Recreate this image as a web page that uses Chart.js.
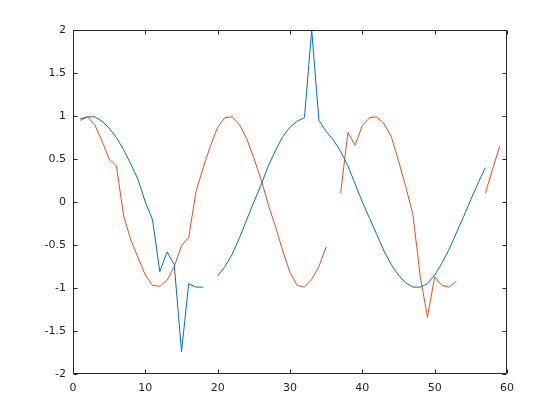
<!DOCTYPE html>
<html>
<head>
<meta charset="utf-8">
<script src="https://cdn.jsdelivr.net/npm/chart.js@4"></script>
<style>
  html, body { margin: 0; padding: 0; background: #fff; }
  #wrap { width: 560px; height: 420px; position: relative; }
</style>
</head>
<body>
<div id="wrap"><canvas id="c"></canvas></div>
<script>
// sample positions (x = 1..59)
const xVals = [1, 2, 3, 4, 5, 6, 7, 8, 9, 10, 11, 12, 13, 14, 15, 16, 17, 18, 19, 20,
               21, 22, 23, 24, 25, 26, 27, 28, 29, 30, 31, 32, 33, 34, 35, 36, 37, 38, 39, 40,
               41, 42, 43, 44, 45, 46, 47, 48, 49, 50, 51, 52, 53, 54, 55, 56, 57, 58, 59];

// blue series (gap at 19, ends at 57)
const blueVals = [0.95, 0.99, 0.99, 0.94, 0.86, 0.75, 0.61, 0.44, 0.26, 0.0,
                  -0.21, -0.81, -0.58, -0.73, -1.74, -0.95, -0.99, -0.99, null, -0.86,
                  -0.75, -0.61, -0.42, -0.21, 0.0, 0.2, 0.42, 0.6, 0.76, 0.87,
                  0.94, 0.98, 2.0, 0.95, 0.82, 0.72, 0.59, 0.42, 0.21, 0.0,
                  -0.19, -0.38, -0.57, -0.73, -0.85, -0.94, -0.99, -0.99, -0.95, -0.85,
                  -0.71, -0.55, -0.36, -0.17, 0.03, 0.22, 0.4, null, null];

// red series (gaps at 36 and 54..56)
const redVals = [0.97, 0.99, 0.9, 0.71, 0.5, 0.42, -0.16, -0.44, -0.65, -0.85,
                 -0.97, -0.98, -0.91, -0.75, -0.51, -0.41, 0.12, 0.4, 0.65, 0.87,
                 0.98, 0.99, 0.9, 0.74, 0.51, 0.26, -0.03, -0.29, -0.57, -0.82,
                 -0.97, -0.99, -0.9, -0.75, -0.52, null, 0.1, 0.81, 0.66, 0.89,
                 0.98, 0.99, 0.91, 0.76, 0.48, 0.18, -0.15, -0.86, -1.34, -0.87,
                 -0.97, -0.99, -0.92, null, null, null, 0.1, 0.38, 0.65];

const AXIS = '#262626';
const FONT = { family: 'DejaVu Sans', size: 11 };

// box + inward ticks on all four sides, like the original axes
const boxAxes = {
    id: 'boxAxes',
    afterDraw(chart) {
        const { ctx, chartArea: a, scales: { x, y } } = chart;
        const L = Math.round(a.left) + 0.5, R = Math.round(a.right) - 0.5;
        const T = Math.round(a.top) + 0.5,  B = Math.round(a.bottom) - 0.5;
        const tl = 4;
        ctx.save();
        ctx.strokeStyle = AXIS;
        ctx.lineWidth = 1;
        ctx.beginPath();
        ctx.rect(L, T, R - L, B - T);
        x.ticks.forEach(t => {
            const px = Math.round(x.getPixelForValue(t.value)) + 0.5;
            ctx.moveTo(px, B); ctx.lineTo(px, B - tl);
            ctx.moveTo(px, T); ctx.lineTo(px, T + tl);
        });
        y.ticks.forEach(t => {
            const py = Math.round(y.getPixelForValue(t.value)) + 0.5;
            ctx.moveTo(L, py); ctx.lineTo(L + tl, py);
            ctx.moveTo(R, py); ctx.lineTo(R - tl, py);
        });
        ctx.stroke();
        ctx.restore();
    }
};

const pts = vals => xVals.map((x, i) => ({ x, y: vals[i] }));

new Chart(document.getElementById('c'), {
    type: 'line',
    data: {
        datasets: [
            { data: pts(blueVals), borderColor: '#0072BD', borderWidth: 1, pointRadius: 0, tension: 0, spanGaps: false },
            { data: pts(redVals),  borderColor: '#D95319', borderWidth: 1, pointRadius: 0, tension: 0, spanGaps: false },
        ]
    },
    options: {
        responsive: true,
        maintainAspectRatio: false,
        animation: false,
        layout: { padding: { top: 30, right: 53, left: 0, bottom: 0 } },
        scales: {
            x: {
                type: 'linear',
                min: 0, max: 60,
                ticks: { stepSize: 10, color: AXIS, font: FONT, padding: 8, maxRotation: 0 },
                grid: { display: false, drawTicks: false },
                border: { display: false },
                afterFit(scale) { scale.height = 46; },
            },
            y: {
                min: -2, max: 2,
                ticks: { stepSize: 0.5, color: AXIS, font: FONT, padding: 7, callback: v => String(v) },
                grid: { display: false, drawTicks: false },
                border: { display: false },
                afterFit(scale) { scale.width = 73; },
            },
        },
        plugins: {
            legend: { display: false },
            tooltip: { enabled: false },
        },
    },
    plugins: [boxAxes],
});
</script>
</body>
</html>
